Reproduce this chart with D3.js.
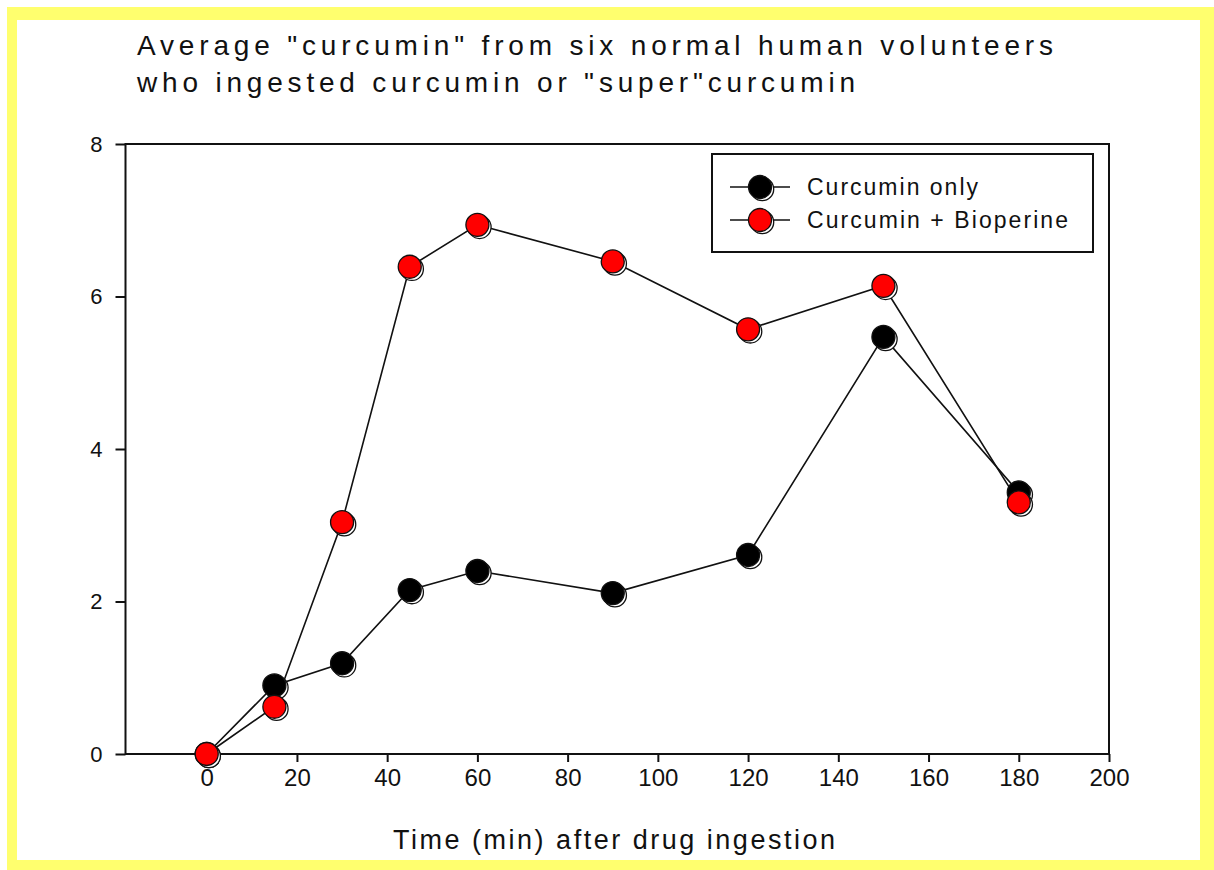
<!DOCTYPE html>
<html>
<head>
<meta charset="utf-8">
<script src="https://cdn.jsdelivr.net/npm/d3@7"></script>
<style>
  html, body { margin: 0; padding: 0; background: #ffffff; }
  svg { display: block; }
  text { font-family: "Liberation Sans", Arial, sans-serif; fill: #111; }
</style>
</head>
<body>
<svg id="chart" width="1214" height="870"></svg>
<script>
// ---- data ----
const times = [0, 15, 30, 45, 60, 90, 120, 150, 180];
const curcuminOnly = [0, 0.90, 1.19, 2.15, 2.40, 2.11, 2.61, 5.47, 3.43];
const curcuminBioperine = [0, 0.62, 3.04, 6.39, 6.94, 6.46, 5.57, 6.14, 3.30];
const seriesNames = ["Curcumin only", "Curcumin + Bioperine"];
const seriesColors = ["#000000", "#ff0000"];
const xTicks = [0, 20, 40, 60, 80, 100, 120, 140, 160, 180, 200];
const yTicks = [0, 2, 4, 6, 8];
const titleLines = ['Average "curcumin" from six normal human volunteers',
                    'who ingested curcumin or "super"curcumin'];
const xLabel = "Time (min) after drug ingestion";

const svg = d3.select("#chart");

// page frame
svg.append("rect").attr("x", 0).attr("y", 0).attr("width", 1214).attr("height", 870).attr("fill", "#ffffff");
svg.append("rect").attr("x", 7).attr("y", 7).attr("width", 1207).attr("height", 863).attr("fill", "#ffff6e");
svg.append("rect").attr("x", 17).attr("y", 20).attr("width", 1183).attr("height", 840).attr("fill", "#ffffff");

// scales
const x = d3.scaleLinear().domain([-18, 200]).range([125.5, 1109]);
const y = d3.scaleLinear().domain([0, 8]).range([754, 144]);

// title
const titleLen = [916, 718];
svg.selectAll("text.title").data(titleLines).enter().append("text")
  .attr("class", "title")
  .attr("x", 137).attr("y", (d, i) => 55 + i * 37)
  .attr("font-size", 28)
  .attr("textLength", (d, i) => titleLen[i])
  .attr("lengthAdjust", "spacing")
  .text(d => d);

// axes
const xAxis = d3.axisBottom(x).tickValues(xTicks).tickSize(8).tickSizeOuter(0).tickPadding(7);
const gx = svg.append("g").attr("transform", `translate(0,${y(0)})`).call(xAxis);
gx.select(".domain").remove();
gx.selectAll(".tick line").attr("stroke", "#111").attr("stroke-width", 2);
gx.selectAll(".tick text").attr("font-size", 24).attr("fill", "#111")
  .attr("font-family", '"Liberation Sans", Arial, sans-serif');

const yAxis = d3.axisLeft(y).tickValues(yTicks).tickSize(10).tickSizeOuter(0).tickPadding(13);
const gy = svg.append("g").attr("transform", `translate(${x(-18)},0)`).call(yAxis);
gy.select(".domain").remove();
gy.selectAll(".tick line").attr("stroke", "#111").attr("stroke-width", 2);
gy.selectAll(".tick text").attr("font-size", 22).attr("fill", "#111")
  .attr("font-family", '"Liberation Sans", Arial, sans-serif');

// plot frame
svg.append("rect")
  .attr("x", x(-18)).attr("y", y(8))
  .attr("width", x(200) - x(-18)).attr("height", y(0) - y(8))
  .attr("fill", "none").attr("stroke", "#111").attr("stroke-width", 2);

// x label
svg.append("text")
  .attr("x", 393).attr("y", 849)
  .attr("font-size", 27)
  .attr("textLength", 442).attr("lengthAdjust", "spacing")
  .text(xLabel);

// series
const series = [curcuminOnly, curcuminBioperine].map((vals, i) => ({
  name: seriesNames[i], color: seriesColors[i],
  points: times.map((t, j) => ({ t: t, v: vals[j] }))
}));

const line = d3.line().x(d => x(d.t)).y(d => y(d.v));
const R = 11.5;

function marker(g, cx, cy, color) {
  g.append("circle").attr("cx", cx + 2.2).attr("cy", cy + 2.2).attr("r", R)
    .attr("fill", "#ffffff").attr("stroke", "#111").attr("stroke-width", 1.3);
  g.append("circle").attr("cx", cx).attr("cy", cy).attr("r", R)
    .attr("fill", color).attr("stroke", "#111").attr("stroke-width", 1.3);
}

series.forEach(s => {
  svg.append("path").datum(s.points)
    .attr("d", line).attr("fill", "none")
    .attr("stroke", "#111").attr("stroke-width", 1.6);
});
series.forEach(s => {
  const g = svg.append("g");
  s.points.forEach(p => marker(g, x(p.t), y(p.v), s.color));
});

// legend
svg.append("rect").attr("x", 712).attr("y", 154).attr("width", 381).attr("height", 98)
  .attr("fill", "#ffffff").attr("stroke", "#111").attr("stroke-width", 2);
const legendLens = [171, 261];
series.forEach((s, i) => {
  const ly = 187 + i * 33;
  svg.append("line").attr("x1", 730).attr("x2", 790).attr("y1", ly).attr("y2", ly)
    .attr("stroke", "#111").attr("stroke-width", 1.6);
  const g = svg.append("g");
  marker(g, 760, ly, s.color);
  svg.append("text").attr("x", 807).attr("y", ly + 8)
    .attr("font-size", 23)
    .attr("textLength", legendLens[i]).attr("lengthAdjust", "spacing")
    .text(s.name);
});
</script>
</body>
</html>
